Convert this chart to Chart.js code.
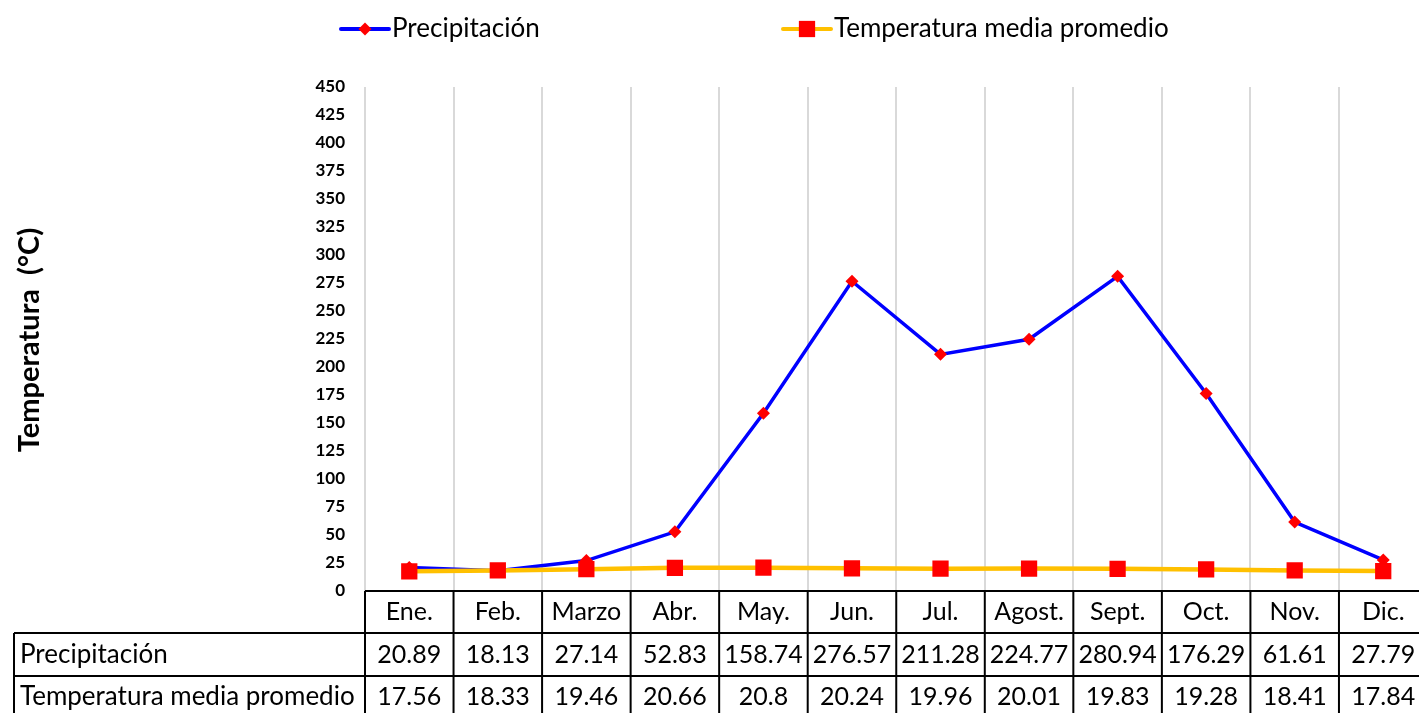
<!DOCTYPE html>
<html>
<head>
<meta charset="utf-8">
<script src="https://cdn.jsdelivr.net/npm/chart.js@4.4.0/dist/chart.umd.min.js"></script>
<style>
  html, body { margin: 0; padding: 0; overflow: hidden; background: #fff; }
  .container { width: 1439px; height: 713px; }
</style>
</head>
<body>
<div class="container">
  <canvas id="chart" width="1439" height="713"></canvas>
</div>
<script>
const months = ["Ene.", "Feb.", "Marzo", "Abr.", "May.", "Jun.", "Jul.", "Agost.", "Sept.", "Oct.", "Nov.", "Dic."];
const precipitacion = [20.89, 18.13, 27.14, 52.83, 158.74, 276.57, 211.28, 224.77, 280.94, 176.29, 61.61, 27.79];
const temperatura = [17.56, 18.33, 19.46, 20.66, 20.8, 20.24, 19.96, 20.01, 19.83, 19.28, 18.41, 17.84];
const seriesNames = ["Precipitación", "Temperatura media promedio"];
const yTitle = "Temperatura  (°C)";

const FONT = "Lato, 'Open Sans', sans-serif";

// legend drawn by hand: line + marker, like the spreadsheet one
const legendPlugin = {
    id: "sheetLegend",
    afterDraw(chart) {
        const ctx = chart.ctx;
        const starts = [341, 783];
        ctx.save();
        chart.data.datasets.forEach((ds, i) => {
            const x = starts[i], y = 29;
            ctx.strokeStyle = ds.borderColor;
            ctx.lineWidth = 4;
            ctx.lineCap = "round";
            ctx.beginPath();
            ctx.moveTo(x, y);
            ctx.lineTo(x + 48, y);
            ctx.stroke();
            ctx.fillStyle = ds.pointBackgroundColor;
            Chart.helpers.drawPoint(ctx, {
                pointStyle: ds.pointStyle,
                radius: ds.pointRadius,
                borderWidth: 0,
                rotation: 0
            }, x + 24, y);
            ctx.fillStyle = "#000";
            ctx.font = "26px " + FONT;
            ctx.textBaseline = "middle";
            ctx.textAlign = "left";
            ctx.fillText(ds.label, x + 51, y);
        });
        ctx.restore();
    }
};

// y title + data table below the plot
const tablePlugin = {
    id: "dataTable",
    afterDraw(chart) {
        const ctx = chart.ctx;
        const area = chart.chartArea;
        const xs = chart.scales.x;
        const colW = (area.right - area.left) / months.length;
        const top = area.bottom;
        const r1 = top + 42, r2 = top + 85, bottom = chart.height;

        ctx.save();
        // y title
        ctx.translate(30, 340);
        ctx.rotate(-Math.PI / 2);
        ctx.font = "bold 29px " + FONT;
        ctx.fillStyle = "#000";
        ctx.textAlign = "center";
        ctx.textBaseline = "middle";
        ctx.fillText(yTitle, 0, 0);
        ctx.restore();

        ctx.save();
        ctx.strokeStyle = "#000";
        ctx.lineWidth = 2;
        ctx.beginPath();
        ctx.moveTo(area.left, top); ctx.lineTo(area.right, top);
        ctx.moveTo(14, r1); ctx.lineTo(area.right, r1);
        ctx.moveTo(14, r2); ctx.lineTo(area.right, r2);
        ctx.moveTo(14, r1); ctx.lineTo(14, bottom);
        for (let i = 0; i <= months.length; i++) {
            const x = area.left + i * colW;
            ctx.moveTo(x, top); ctx.lineTo(x, bottom);
        }
        ctx.stroke();

        ctx.fillStyle = "#000";
        ctx.font = "26px " + FONT;
        ctx.textBaseline = "middle";
        ctx.textAlign = "left";
        ctx.fillText(seriesNames[0], 20, (r1 + r2) / 2);
        ctx.fillText(seriesNames[1], 20, (r2 + bottom) / 2 + 2);
        ctx.font = "25px " + FONT;
        ctx.textAlign = "center";
        months.forEach((m, i) => {
            const cx = xs.getPixelForValue(i);
            ctx.fillText(m, cx, (top + r1) / 2);
            ctx.fillText(String(precipitacion[i]), cx, (r1 + r2) / 2);
            ctx.fillText(String(temperatura[i]), cx, (r2 + bottom) / 2 + 2);
        });
        ctx.restore();
    }
};

const ctx = document.getElementById("chart").getContext("2d");
const myChart = new Chart(ctx, {
    type: "line",
    data: {
        labels: months,
        datasets: [
            {
                label: seriesNames[0],
                data: precipitacion,
                borderColor: "#0000FF",
                borderWidth: 3.5,
                pointStyle: "rectRot",
                pointRadius: 6.5,
                pointBackgroundColor: "#FF0000",
                pointBorderWidth: 0,
                tension: 0,
                order: 2
            },
            {
                label: seriesNames[1],
                data: temperatura,
                borderColor: "#FFC000",
                borderWidth: 4.5,
                pointStyle: "rect",
                pointRadius: 11.5,
                pointBackgroundColor: "#FF0000",
                pointBorderWidth: 0,
                tension: 0,
                order: 1
            }
        ]
    },
    options: {
        responsive: false,
        animation: false,
        devicePixelRatio: 1,
        layout: { padding: { top: 87, bottom: 122, left: 0, right: 0 } },
        plugins: {
            legend: { display: false },
            tooltip: { enabled: false }
        },
        scales: {
            x: {
                offset: true,
                grid: { offset: true, color: "#d9d9d9", lineWidth: 2, drawTicks: false },
                border: { display: false },
                ticks: { display: false }
            },
            y: {
                min: 0,
                max: 450,
                afterFit(scale) { scale.width = 365; },
                grid: { display: false, drawTicks: false },
                border: { display: false },
                ticks: {
                    stepSize: 25,
                    padding: 20,
                    color: "#000",
                    font: { family: FONT, size: 17, weight: "bold" }
                }
            }
        }
    },
    plugins: [legendPlugin, tablePlugin]
});
</script>
</body>
</html>
